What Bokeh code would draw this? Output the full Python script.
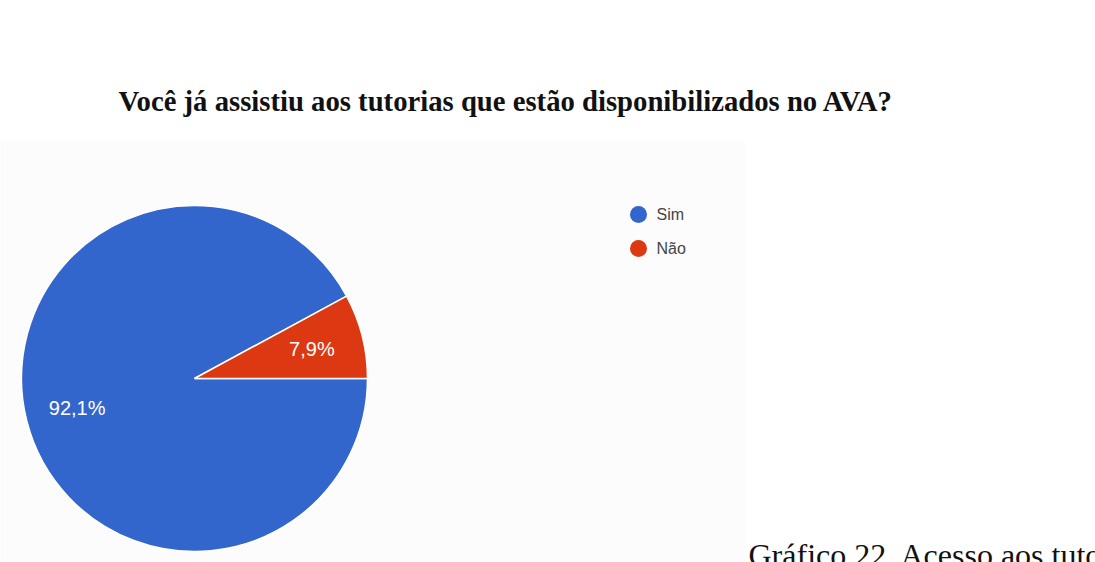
import numpy as np
from bokeh.plotting import figure
from bokeh.models import Range1d, ColumnDataSource
from bokeh.core.properties import value
from bokeh.embed import file_html
from bokeh.resources import INLINE

# ---- data ----
title_text = "Você já assistiu aos tutorias que estão disponibilizados no AVA?"
caption_text = "Gráfico 22. Acesso aos tutoriais"
categories = ["Sim", "Não"]
percent = [92.1, 7.9]
labels = ["92,1%", "7,9%"]
colors = ["#3366CC", "#DC3912"]

W, H = 1095, 562

def sx(X):
    return X

def sy(Y):
    return H - Y

p = figure(width=W, height=H, output_backend="svg", toolbar_location=None,
           x_range=Range1d(0, W), y_range=Range1d(0, H), min_border=0)
p.axis.visible = False
p.grid.visible = False
p.outline_line_color = None
p.background_fill_color = "white"
p.border_fill_color = "white"

# very faint backdrop of the pasted chart image
p.quad(left=sx(0), right=sx(745), top=sy(140), bottom=sy(562),
       fill_color="#fcfcfc", line_color=None)

# pie geometry
cx, cy, R = sx(194), sy(378), 173

vals = np.array(percent, dtype=float)
frac = vals / vals.sum()
ang = frac * 2 * np.pi
# Não starts at 0 (3 o'clock) going anticlockwise, Sim fills the rest
nao_end = ang[1]
starts = [nao_end, 0.0]
ends = [2 * np.pi, nao_end]
mids = [(s + e) / 2 for s, e in zip(starts, ends)]

src = ColumnDataSource(dict(cat=categories, start=starts, end=ends, color=colors,
                            lx=[cx + 0.70 * R * np.cos(m) for m in mids],
                            ly=[cy + 0.70 * R * np.sin(m) for m in mids],
                            label=labels))
p.wedge(x=cx, y=cy, radius=R, start_angle="start", end_angle="end",
        direction="anticlock", fill_color="color", line_color="white",
        line_width=1.5, source=src)
p.text(x="lx", y="ly", text="label", source=src, text_color="white",
       text_font=value("Liberation Sans"), text_font_size="20px",
       text_align="center", text_baseline="middle")

# legend
leg_y = [sy(214), sy(248)]
p.scatter(x=[sx(638)] * len(categories), y=leg_y, size=17, marker="circle",
          fill_color=colors, line_color=None)
p.text(x=[sx(656)] * len(categories), y=leg_y, text=categories,
       text_color="#444444", text_font=value("Liberation Sans"),
       text_font_size="16px", text_baseline="middle", text_align="left")

# title
p.text(x=[sx(118)], y=[sy(100)], text=[title_text], text_color="#111111",
       text_font=value("Liberation Serif"), text_font_size="28.7px",
       text_font_style="bold", text_baseline="middle", text_align="left")

# caption
p.text(x=[sx(748)], y=[sy(554)], text=[caption_text], text_color="#111111",
       text_font=value("Liberation Serif"), text_font_size="32px",
       text_baseline="middle", text_align="left")

open("out.html", "w").write(file_html(p, INLINE))
